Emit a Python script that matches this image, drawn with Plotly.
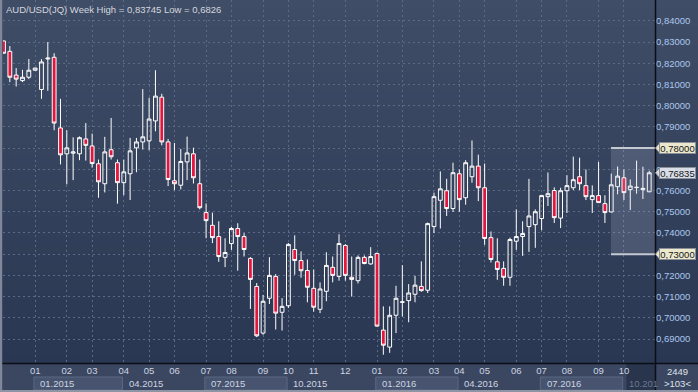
import plotly.graph_objects as go

# ---------------- data (weekly AUD/USD candles) ----------------
opens = [0.8305, 0.8256, 0.8144, 0.8118, 0.8134, 0.8167, 0.8076, 0.8220, 0.8228, 0.7895,
         0.7773, 0.7776, 0.7773, 0.7843, 0.7810, 0.7726, 0.7632, 0.7792, 0.7731, 0.7637,
         0.7679, 0.7801, 0.7829, 0.7834, 0.7928, 0.8040, 0.7829, 0.7646, 0.7625, 0.7735,
         0.7773, 0.7632, 0.7496, 0.7436, 0.7383, 0.7285, 0.7350, 0.7421, 0.7383, 0.7280,
         0.7148, 0.6928, 0.7092, 0.7195, 0.7026, 0.7057, 0.7322, 0.7270, 0.7223, 0.7139,
         0.7040, 0.7125, 0.7238, 0.7195, 0.7341, 0.7191, 0.7175, 0.7285, 0.7254, 0.7303,
         0.6942, 0.6862, 0.7012, 0.7073, 0.7081, 0.7111, 0.7148, 0.7130, 0.7430, 0.7554,
         0.7599, 0.7515, 0.7679, 0.7566, 0.7665, 0.7715, 0.7613, 0.7378, 0.7264, 0.7233,
         0.7191, 0.7361, 0.7383, 0.7430, 0.7439, 0.7468, 0.7571, 0.7600, 0.7470, 0.7599,
         0.7613, 0.7665, 0.7623, 0.7557, 0.7576, 0.7538, 0.7499, 0.7618, 0.7660, 0.7604,
         0.7614, 0.7604, 0.7594]
highs = [0.8306, 0.8281, 0.8177, 0.8169, 0.8220, 0.8179, 0.8219, 0.8300, 0.8247, 0.8032,
         0.7884, 0.7851, 0.7855, 0.7918, 0.7868, 0.7746, 0.7853, 0.7942, 0.7746, 0.7746,
         0.7848, 0.7848, 0.8078, 0.8037, 0.8167, 0.8056, 0.7843, 0.7824, 0.7796, 0.7854,
         0.7802, 0.7746, 0.7539, 0.7496, 0.7455, 0.7375, 0.7428, 0.7446, 0.7399, 0.7286,
         0.7164, 0.7108, 0.7286, 0.7206, 0.7093, 0.7352, 0.7389, 0.7313, 0.7275, 0.7228,
         0.7167, 0.7309, 0.7289, 0.7394, 0.7347, 0.7289, 0.7294, 0.7294, 0.7333, 0.7308,
         0.7054, 0.7054, 0.7151, 0.7248, 0.7159, 0.7198, 0.7266, 0.7449, 0.7590, 0.7690,
         0.7655, 0.7731, 0.7699, 0.7743, 0.7836, 0.7769, 0.7727, 0.7407, 0.7375, 0.7266,
         0.7378, 0.7511, 0.7455, 0.7655, 0.7511, 0.7580, 0.7685, 0.7615, 0.7613, 0.7672,
         0.7760, 0.7755, 0.7699, 0.7624, 0.7735, 0.7578, 0.7680, 0.7713, 0.7699, 0.7652,
         0.7741, 0.7712, 0.7693]
lows = [0.8246, 0.8111, 0.8090, 0.8111, 0.8125, 0.8165, 0.8032, 0.8070, 0.7884, 0.7723,
        0.7629, 0.7649, 0.7743, 0.7741, 0.7708, 0.7566, 0.7591, 0.7746, 0.7538, 0.7578,
        0.7555, 0.7686, 0.7793, 0.7790, 0.7879, 0.7813, 0.7621, 0.7602, 0.7605, 0.7649,
        0.7633, 0.7511, 0.7375, 0.7352, 0.7264, 0.7239, 0.7320, 0.7222, 0.7289, 0.7042,
        0.6909, 0.6920, 0.7065, 0.6945, 0.6940, 0.7046, 0.7203, 0.7189, 0.7073, 0.7029,
        0.7022, 0.7078, 0.7167, 0.7175, 0.7175, 0.7100, 0.7162, 0.7252, 0.7250, 0.6958,
        0.6826, 0.6835, 0.6928, 0.7006, 0.6979, 0.7073, 0.7123, 0.7117, 0.7399, 0.7421,
        0.7480, 0.7499, 0.7499, 0.7533, 0.7637, 0.7550, 0.7344, 0.7261, 0.7179, 0.7151,
        0.7151, 0.7320, 0.7292, 0.7311, 0.7330, 0.7413, 0.7527, 0.7447, 0.7423, 0.7494,
        0.7602, 0.7602, 0.7555, 0.7494, 0.7541, 0.7447, 0.7496, 0.7582, 0.7555, 0.7508,
        0.7585, 0.7560, 0.7592]
closes = [0.8247, 0.8134, 0.8125, 0.8134, 0.8167, 0.8177, 0.8206, 0.8224, 0.7918, 0.7768,
          0.7801, 0.7782, 0.7849, 0.7813, 0.7727, 0.7641, 0.7782, 0.7759, 0.7637, 0.7688,
          0.7787, 0.7829, 0.7853, 0.7937, 0.8045, 0.7829, 0.7652, 0.7632, 0.7737, 0.7777,
          0.7660, 0.7519, 0.7458, 0.7378, 0.7289, 0.7308, 0.7421, 0.7383, 0.7322, 0.7181,
          0.6915, 0.7078, 0.7200, 0.7022, 0.7054, 0.7346, 0.7270, 0.7222, 0.7144, 0.7050,
          0.7136, 0.7247, 0.7200, 0.7350, 0.7200, 0.7181, 0.7285, 0.7256, 0.7289, 0.6961,
          0.6871, 0.7012, 0.7092, 0.7075, 0.7117, 0.7154, 0.7128, 0.7444, 0.7571, 0.7608,
          0.7515, 0.7684, 0.7557, 0.7731, 0.7715, 0.7613, 0.7374, 0.7275, 0.7228, 0.7191,
          0.7369, 0.7383, 0.7397, 0.7480, 0.7500, 0.7576, 0.7585, 0.7472, 0.7599, 0.7623,
          0.7651, 0.7632, 0.7571, 0.7576, 0.7543, 0.7496, 0.7627, 0.7668, 0.7590, 0.7621,
          0.7615, 0.7610, 0.76835]
bar_idx = list(range(len(closes)))

month_tick_idx = [5, 10, 14, 19, 23, 27, 32, 36, 41, 45, 49, 54,
                  59, 63, 68, 72, 76, 81, 85, 89, 94, 98]
month_labels = ["01", "02", "03", "04", "05", "06", "07", "08", "09", "10", "11", "12",
                "01", "02", "03", "04", "05", "06", "07", "08", "09", "10"]
quarter_idx = [5, 19, 32, 45, 59, 72, 85, 98]
quarter_labels = ["01.2015", "04.2015", "07.2015", "10.2015",
                  "01.2016", "04.2016", "07.2016", "10.201"]
y_tick_vals = [0.69, 0.70, 0.71, 0.72, 0.73, 0.74, 0.75, 0.76, 0.77, 0.78,
               0.79, 0.80, 0.81, 0.82, 0.83, 0.84]
level_high = 0.78
level_low = 0.73
level_box_start = 95.95
last_price = 0.76835
title_text = "AUD/USD(JQ) Week High = 0,83745 Low = 0,6826"
bars_total_text = "2449"
bars_shown_text = ">103<"

# ---------------- geometry helpers ----------------
W, H = 698, 392
ML, MR, MT, MB = 3, 43, 0, 29
PW, PH = W - ML - MR, H - MT - MB
X_RANGE = [-0.08, 102.91]
Y_RANGE = [0.6787, 0.8498]
FONT = "Liberation Sans, Arial, sans-serif"
FS = 9.5
GRID = "#5c6a87"


def xp(px):
    return (px - ML) / PW


def yp(py):
    return (MT + PH - py) / PH


def ypx_to_val(dpx):
    return dpx * (Y_RANGE[1] - Y_RANGE[0]) / PH


fig = go.Figure(go.Candlestick(
    x=bar_idx, open=opens, high=highs, low=lows, close=closes,
    increasing=dict(line=dict(color="#ffffff", width=1), fillcolor="rgba(0,0,0,0)"),
    decreasing=dict(line=dict(color="#ffffff", width=1), fillcolor="#e3173e"),
    whiskerwidth=0, hoverinfo="skip", showlegend=False))

shapes = []
# background gradient of the chart area (plot + right price column)
top_c, bot_c = (64, 77, 103), (42, 55, 82)
n_bands = 40
for k in range(n_bands):
    t = k / (n_bands - 1)
    c = tuple(round(top_c[i] + (bot_c[i] - top_c[i]) * t) for i in range(3))
    shapes.append(dict(type="rect", xref="paper", yref="paper", layer="below",
                       x0=xp(0), x1=xp(W), y0=yp(PH * k / n_bands), y1=yp(PH * (k + 1) / n_bands + 0.5),
                       fillcolor="rgb(%d,%d,%d)" % c, line=dict(width=0)))

# shaded level box 0.73 - 0.78
shapes.append(dict(type="rect", xref="x", yref="y", layer="above",
                   x0=level_box_start, x1=X_RANGE[1], y0=level_low, y1=level_high,
                   fillcolor="rgba(205,215,232,0.17)", line=dict(width=0)))
for lv in (level_high, level_low):
    shapes.append(dict(type="line", xref="x", yref="y", layer="above",
                       x0=level_box_start, x1=X_RANGE[1], y0=lv, y1=lv,
                       line=dict(color="#c3c8d1", width=2)))

# quarter boxes on the date strip
for qi in range(len(quarter_idx) - 1):
    if qi % 2 == 0:
        shapes.append(dict(type="rect", xref="x", yref="paper", layer="below",
                           x0=quarter_idx[qi] - 0.2, x1=quarter_idx[qi + 1] - 0.2,
                           y0=yp(390), y1=yp(377),
                           fillcolor="#48546f", line=dict(color="#5b6883", width=1)))
shapes.append(dict(type="rect", xref="x", yref="paper", layer="below",
                   x0=quarter_idx[-1] + 0.4, x1=X_RANGE[1], y0=yp(392), y1=yp(363.5),
                   fillcolor="#29344d", line=dict(width=0)))

# separator lines and frame
shapes.append(dict(type="line", xref="paper", yref="paper", layer="above",
                   x0=xp(0), x1=xp(W), y0=yp(363.5), y1=yp(363.5),
                   line=dict(color="#0b0e14", width=1.5)))
shapes.append(dict(type="line", xref="paper", yref="paper", layer="above",
                   x0=xp(655.5), x1=xp(655.5), y0=yp(0), y1=yp(H),
                   line=dict(color="#0b0e14", width=1.5)))
shapes.append(dict(type="rect", xref="paper", yref="paper", layer="above",
                   x0=xp(0), x1=xp(2.2), y0=yp(0), y1=yp(H),
                   fillcolor="#7f889a", line=dict(width=0)))
shapes.append(dict(type="rect", xref="paper", yref="paper", layer="above",
                   x0=xp(0), x1=xp(W), y0=yp(H), y1=yp(H - 2),
                   fillcolor="#8d95a4", line=dict(width=0)))

# price tags (arrow part)
dy = ypx_to_val(5.5)
for lv, col in ((level_high, "#ebe8cc"), (level_low, "#ebe8cc"), (last_price, "#d8dde6")):
    shapes.append(dict(type="path", xref="paper", yref="y", layer="above",
                       path="M %f,%f L %f,%f L %f,%f Z" % (xp(655.5), lv, xp(660), lv + dy, xp(660), lv - dy),
                       fillcolor=col, line=dict(color="#8a8f98", width=1)))

annotations = [
    dict(xref="paper", yref="paper", x=xp(4), y=yp(2), xanchor="left", yanchor="top",
         text=title_text, showarrow=False, font=dict(family=FONT, size=FS, color="#d3d7df")),
    dict(xref="paper", yref="paper", x=xp(677), y=yp(371.5), xanchor="center", yanchor="middle",
         text=bars_total_text, showarrow=False, font=dict(family=FONT, size=FS, color="#dfe3ea")),
    dict(xref="paper", yref="paper", x=xp(677), y=yp(383), xanchor="center", yanchor="middle",
         text=bars_shown_text, showarrow=False, font=dict(family=FONT, size=FS, color="#dfe3ea")),
]
for qi, (q, lbl) in enumerate(zip(quarter_idx, quarter_labels)):
    last = qi == len(quarter_idx) - 1
    annotations.append(dict(xref="x", yref="paper", x=q, y=yp(383), xanchor="left", yanchor="middle",
                            xshift=3, text=lbl, showarrow=False,
                            font=dict(family=FONT, size=FS, color="#6e7990" if last else "#cdd5e2")))
for lv, col in ((level_high, "#ebe8cc"), (level_low, "#ebe8cc"), (last_price, "#d8dde6")):
    annotations.append(dict(xref="paper", yref="y", x=xp(659.5), y=lv, xanchor="left", yanchor="middle",
                            text=("%.5f" % lv).replace(".", ","), showarrow=False,
                            bgcolor=col, bordercolor="#8a8f98", borderwidth=1, borderpad=0,
                            width=35, height=10,
                            font=dict(family=FONT, size=FS, color="#15171c")))

# tick labels hidden behind the level tags
y_tick_text = [("%.5f" % v).replace(".", ",") if v not in (level_high, level_low) else ""
               for v in y_tick_vals]

fig.update_layout(
    width=W, height=H, template="none",
    margin=dict(l=ML, r=MR, t=MT, b=MB, pad=0, autoexpand=False),
    paper_bgcolor="#3b4660", plot_bgcolor="rgba(0,0,0,0)",
    separators=",.", boxgap=0.4, boxgroupgap=0, showlegend=False,
    font=dict(family=FONT, size=FS, color="#cdd5e2"),
    shapes=shapes, annotations=annotations,
)
fig.update_xaxes(range=X_RANGE, tickmode="array", tickvals=month_tick_idx, ticktext=month_labels,
                 showgrid=True, gridcolor=GRID, gridwidth=1, griddash="2px,3px",
                 zeroline=False, showline=False, ticks="", automargin=False,
                 tickfont=dict(family=FONT, size=FS, color="#cdd5e2"),
                 rangeslider=dict(visible=False), fixedrange=True)
fig.update_yaxes(range=Y_RANGE, side="right", tickmode="array", tickvals=y_tick_vals,
                 ticktext=y_tick_text, showgrid=True, gridcolor=GRID, gridwidth=1, griddash="2px,3px",
                 zeroline=False, showline=False, ticks="", automargin=False,
                 tickfont=dict(family=FONT, size=FS, color="#a9c7ee"), fixedrange=True)

fig.write_html("out.html", config={"displayModeBar": False},
               post_script="document.body.style.margin='0';document.body.style.overflow='hidden';")
